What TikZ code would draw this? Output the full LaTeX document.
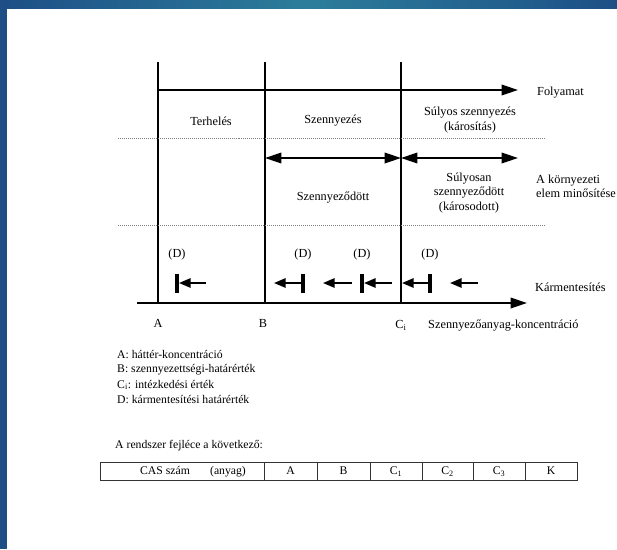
\documentclass[tikz,border=0pt]{standalone}
\usepackage{fontspec}
\setmainfont{Liberation Serif}
\usetikzlibrary{arrows.meta}
\definecolor{kekA}{HTML}{1D4F86}
\definecolor{kekB}{HTML}{2C7D9B}
\tikzset{
  lbl/.style={font=\fontsize{10.5}{12.3}\selectfont, inner sep=0pt},
  kicsi/.style={font=\fontsize{10}{12}\selectfont, inner sep=0pt},
  cella/.style={kicsi, text height=1.6ex, text depth=0.35ex},
  vonal/.style={line width=1.6pt},
  pont/.style={gray, densely dotted, line width=0.7pt},
  nyil/.style={line width=1.6pt, -{Triangle[length=14pt,width=9pt]}},
  ketnyil/.style={line width=1.6pt, {Triangle[length=14pt,width=9pt]}-{Triangle[length=14pt,width=9pt]}},
  rnyil/.style={line width=1.6pt, -{Triangle[length=10pt,width=8pt]}},
  gat/.style={line width=2.8pt},
  tabla/.style={line width=0.6pt, black!80},
}
\begin{document}
\begin{tikzpicture}[x=0.03cm, y=-0.03cm]
  \useasboundingbox (0,0) rectangle (617,549);
  \fill[white] (0,0) rectangle (617,549);
  \shade[left color=kekA, right color=kekA, middle color=kekB] (0,0) rectangle (617,8);
  \fill[kekA] (0,0) rectangle (7,549);

  % hatarertekek
  \foreach \n/\x in {A/158, B/265, C/401} {
    \coordinate (\n-top) at (\x,62);
    \coordinate (\n-bot) at (\x,303);
    \coordinate (\n-mid) at (\x,158);
    \draw[vonal] (\n-top) -- (\n-bot);
  }
  \coordinate (x0) at (137,303);
  \coordinate (x1) at (527,303);
  \draw[nyil] (x0) -- (x1);
  \coordinate (f0) at (158,90);
  \coordinate (f1) at (518,90);
  \draw[nyil] (f0) -- (f1);
  \coordinate (e1) at (518,158);
  \draw[ketnyil] (B-mid) -- (C-mid);
  \draw[ketnyil] (C-mid) -- (e1);

  % pontozott vonalak
  \coordinate (p1a) at (118,138);
  \coordinate (p1b) at (546,138);
  \coordinate (p2a) at (118,225);
  \coordinate (p2b) at (546,225);
  \draw[pont] (p1a) -- (p1b);
  \draw[pont] (p2a) -- (p2b);

  \node[lbl] (terh) at (211,121) {Terhelés};
  \node[lbl] (szenny) at (333,121) {Szennyezés};
  \node[lbl, align=center] (sulyos) at (470,120) {Súlyos szennyezés\\(károsítás)};
  \node[lbl] (szd) at (333,198) {Szennyeződött};
  \node[lbl, align=center] (sulyosan) at (469,193) {Súlyosan\\szennyeződött\\(károsodott)};
  \node[lbl, anchor=west] (folyamat) at (537,93) {Folyamat};
  \node[lbl, anchor=west, align=left] (kornyezet) at (536,186) {A környezeti\\elem minősítése};
  \node[lbl, anchor=west] (karm) at (535,287) {Kármentesítés};

  % karmentesitesi hatarertekek
  \foreach \i/\x in {1/177, 2/303, 3/362, 4/430} {
    \node[lbl] (D\i) at (\x,255) {(D)};
    \coordinate (g\i-a) at (\x,274);
    \coordinate (g\i-b) at (\x,293);
    \draw[gat] (g\i-a) -- (g\i-b);
  }
  \coordinate (r1a) at (206,283); \coordinate (r1b) at (179,283);
  \coordinate (r2a) at (303,283); \coordinate (r2b) at (274,283);
  \coordinate (r3a) at (352,283); \coordinate (r3b) at (323,283);
  \coordinate (r4a) at (392,283); \coordinate (r4b) at (364,283);
  \coordinate (r5a) at (430,283); \coordinate (r5b) at (402,283);
  \coordinate (r6a) at (478,283); \coordinate (r6b) at (450,283);
  \foreach \i in {1,...,6}
    \draw[rnyil] (r\i a) -- (r\i b);

  \node[lbl] (la) at (158,323) {A};
  \node[lbl] (lb) at (263,323) {B};
  \node[lbl] (lc) at (401,325) {C\textsubscript{i}};
  \node[lbl, anchor=west] (konc) at (428,326) {Szennyezőanyag-koncentráció};

  % jelmagyarazat
  \node[kicsi, anchor=west] (j1) at (117,355) {A: háttér-koncentráció};
  \node[kicsi, anchor=west] (j2) at (117,370) {B: szennyezettségi-határérték};
  \node[kicsi, anchor=west] (j3) at (117,385) {C\textsubscript{i}: intézkedési érték};
  \node[kicsi, anchor=west] (j4) at (117,400) {D: kármentesítési határérték};

  \node[kicsi, anchor=west] (fejlec) at (115,446) {A rendszer fejléce a következő:};

  % tabla
  \draw[tabla] (100,462) rectangle (577,480);
  \foreach \x in {264,317,370,422,473,525}
    \draw[tabla] (\x,462) -- (\x,480);
  \node[cella] (cas) at (165,471) {CAS szám};
  \node[cella] (anyag) at (228,471) {(anyag)};
  \foreach \n/\x/\t in {a/290.5/A, b/343.5/B, c1/396/C\textsubscript{1}, c2/447.5/C\textsubscript{2}, c3/499/C\textsubscript{3}, k/551/K}
    \node[cella] (t\n) at (\x,471) {\t};
\end{tikzpicture}
\end{document}
